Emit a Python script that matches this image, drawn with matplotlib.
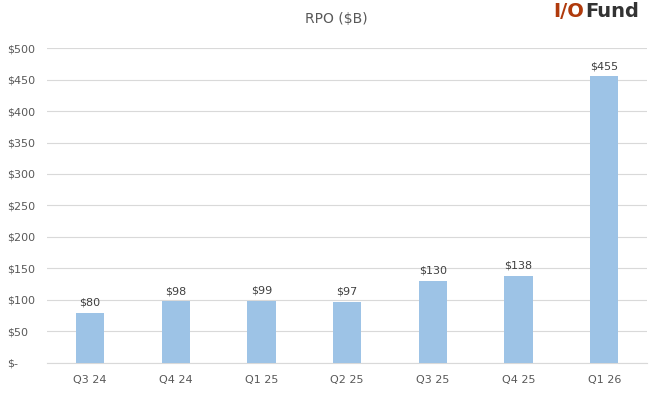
import matplotlib
matplotlib.use('Agg')
import matplotlib.pyplot as plt

quarters = ["Q3 24", "Q4 24", "Q1 25", "Q2 25", "Q3 25", "Q4 25", "Q1 26"]
rpo = [80, 98, 99, 97, 130, 138, 455]
yticks = [0, 50, 100, 150, 200, 250, 300, 350, 400, 450, 500]
ytick_labels = ["$-"] + [f"${v}" for v in yticks[1:]]

text_color = "#595959"

fig = plt.figure(figsize=(6.63, 3.94), dpi=100)
ax = fig.add_axes([0.071, 0.079, 0.905, 0.799])

x = range(len(quarters))
ax.bar(x, rpo, width=0.33, color="#9DC3E6", zorder=3)
for xi, v in zip(x, rpo):
    ax.text(xi, v + 8, f"${v}", ha="center", va="bottom", fontsize=8, color="#404040")

ax.set_xlim(-0.5, len(quarters) - 0.5)
ax.set_ylim(0, 500)
ax.set_yticks(yticks)
ax.set_yticklabels(ytick_labels)
ax.set_xticks(list(x))
ax.set_xticklabels(quarters)
ax.tick_params(length=0, labelsize=8, colors=text_color)
ax.tick_params(axis="x", pad=9)
# left-aligned y labels, like the excel chart
ax.tick_params(axis="y", pad=29)
for lbl in ax.get_yticklabels():
    lbl.set_horizontalalignment("left")

ax.grid(axis="y", color="#D9D9D9", linewidth=0.8, zorder=0)
for s in ["top", "right", "left"]:
    ax.spines[s].set_visible(False)
ax.spines["bottom"].set_color("#D9D9D9")

fig.text(0.507, 0.953, "RPO ($B)", ha="center", va="center", fontsize=10, color=text_color)

# logo
fig.text(0.881, 0.972, "I/O", ha="right", va="center", fontsize=14, fontweight="bold", color="#B03A0C")
fig.text(0.883, 0.972, "Fund", ha="left", va="center", fontsize=14, fontweight="bold", color="#333333")

fig.savefig("out.png", dpi=100)
